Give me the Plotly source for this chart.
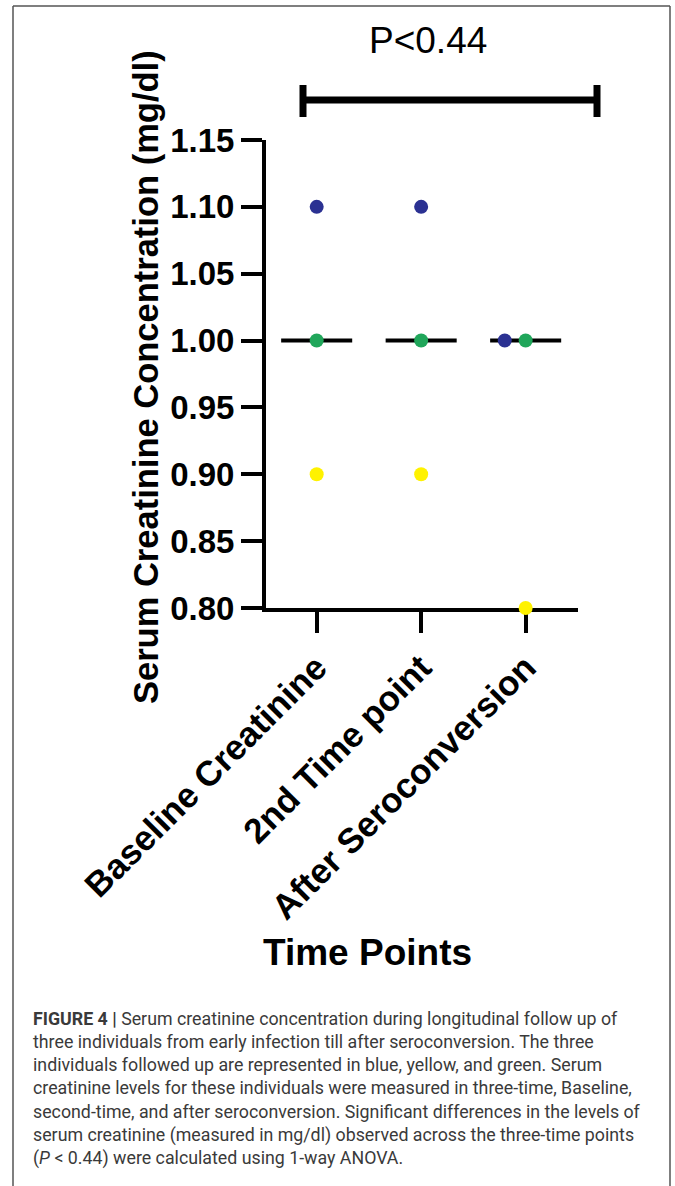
import numpy as np
import plotly.graph_objects as go

# ---- data ----
categories = ["Baseline Creatinine", "2nd Time point", "After Seroconversion"]
blue_values = [1.10, 1.10, 1.00]
green_values = [1.00, 1.00, 1.00]
yellow_values = [0.90, 0.90, 0.80]
blue_offsets = [0.0, 0.0, -0.2]
green_offsets = [0.0, 0.0, 0.0]
yellow_offsets = [0.0, 0.0, 0.0]
y_ticks = [0.80, 0.85, 0.90, 0.95, 1.00, 1.05, 1.10, 1.15]
p_label = "P<0.44"

# ---- layout geometry (pixels) ----
W, H = 675, 1186
L, R, T, B = 266, 578, 140, 608
PW, PH = R - L, B - T


def px(x):
    return (x - L) / PW


def py(y):
    return (B - y) / PH


idx = np.arange(len(categories))
FONT = "Arial"

fig = go.Figure()

# median lines
all_vals = np.array([blue_values, green_values, yellow_values])
medians = np.median(all_vals, axis=0)
for i, m in zip(idx, medians):
    fig.add_trace(go.Scatter(x=[i - 0.34, i + 0.34], y=[m, m], mode="lines",
                             line=dict(color="black", width=4),
                             showlegend=False, hoverinfo="skip", cliponaxis=False))

series = [
    ("blue", blue_values, blue_offsets, "#2b3192"),
    ("yellow", yellow_values, yellow_offsets, "#fff200"),
    ("green", green_values, green_offsets, "#20a65a"),
]
for name, vals, offs, col in series:
    fig.add_trace(go.Scatter(x=idx + np.array(offs), y=vals, mode="markers",
                             marker=dict(color=col, size=14), name=name,
                             showlegend=False, cliponaxis=False))

fig.update_xaxes(range=[-0.485, 2.501], tickvals=list(idx), ticktext=categories,
                 tickangle=-45, showgrid=False, zeroline=False,
                 showline=True, linecolor="black", linewidth=4,
                 ticks="outside", ticklen=21, tickwidth=4, tickcolor="black",
                 tickfont=dict(family=FONT, size=35, color="black", weight="bold"),
                 layer="below traces")
fig.update_yaxes(range=[0.80, 1.15], tickvals=y_ticks,
                 ticktext=[f"{v:.2f}" for v in y_ticks],
                 showgrid=False, zeroline=False,
                 showline=True, linecolor="black", linewidth=4,
                 ticks="outside", ticklen=21, tickwidth=4, tickcolor="black",
                 tickfont=dict(family=FONT, size=33, color="black", weight="bold"),
                 layer="below traces")

shapes = []
# bracket
bx0, bx1, bmid, btop, bbot = 303, 597, 100, 85, 117
shapes.append(dict(type="line", xref="paper", yref="paper", x0=px(bx0), x1=px(bx1),
                   y0=py(bmid), y1=py(bmid), line=dict(color="black", width=7)))
for bx in (bx0, bx1):
    shapes.append(dict(type="line", xref="paper", yref="paper", x0=px(bx), x1=px(bx),
                       y0=py(btop), y1=py(bbot), line=dict(color="black", width=7)))
# frame (open at bottom)
fl, fr, ft, fb = 13, 670, 6, 1200
for (x0, y0, x1, y1) in [(fl, ft, fr, ft), (fl, ft, fl, fb), (fr, ft, fr, fb)]:
    shapes.append(dict(type="line", xref="paper", yref="paper", x0=px(x0), x1=px(x1),
                       y0=py(y0), y1=py(y1), line=dict(color="#555555", width=1.5)))

annotations = [
    dict(text=p_label, xref="paper", yref="paper", x=px(428), y=py(40),
         xanchor="center", yanchor="middle", showarrow=False,
         font=dict(family=FONT, size=37, color="black")),
    dict(text="Serum Creatinine Concentration (mg/dl)", xref="paper", yref="paper",
         x=px(146), y=py(377), xanchor="center", yanchor="middle", textangle=-90,
         showarrow=False, font=dict(family=FONT, size=34.5, color="black", weight="bold")),
    dict(text="Time Points", xref="paper", yref="paper", x=px(367), y=py(952),
         xanchor="center", yanchor="middle", showarrow=False,
         font=dict(family=FONT, size=37, color="black", weight="bold")),
]

caption_lines = [
    "<b>FIGURE 4 |</b> Serum creatinine concentration during longitudinal follow up of",
    "three individuals from early infection till after seroconversion. The three",
    "individuals followed up are represented in blue, yellow, and green. Serum",
    "creatinine levels for these individuals were measured in three-time, Baseline,",
    "second-time, and after seroconversion. Significant differences in the levels of",
    "serum creatinine (measured in mg/dl) observed across the three-time points",
    "(<i>P</i> &lt; 0.44) were calculated using 1-way ANOVA.",
]
annotations.append(dict(text="<br>".join(caption_lines), xref="paper", yref="paper",
                        x=px(31), y=py(1006), xanchor="left", yanchor="top", align="left",
                        showarrow=False,
                        font=dict(family="Roboto, sans-serif", size=17.8, color="#3a3a3a")))

fig.update_layout(width=W, height=H, margin=dict(l=L, r=W - R, t=T, b=H - B),
                  plot_bgcolor="white", paper_bgcolor="white",
                  shapes=shapes, annotations=annotations)

fig.write_html("out.html", config={"displayModeBar": False},
               post_script="document.body.style.margin='0';document.body.style.overflow='hidden';")
